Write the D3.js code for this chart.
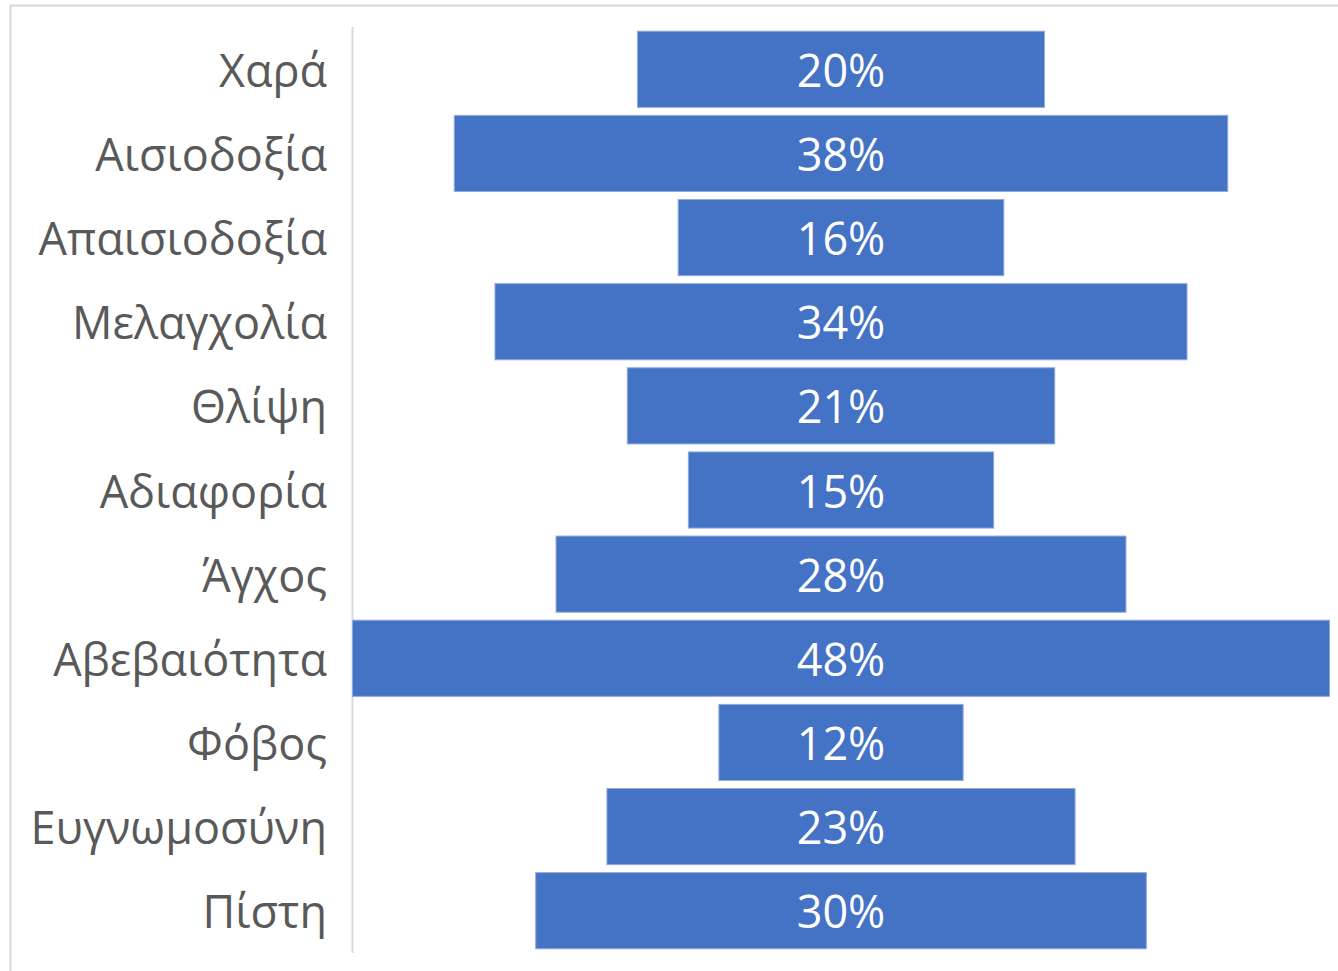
<!DOCTYPE html>
<html><head><meta charset="utf-8">
<script src="https://cdn.jsdelivr.net/npm/d3@7"></script>
<style>html,body{margin:0;padding:0;background:#fff;}svg{display:block;}</style>
</head><body>
<script>
const categories = ["Χαρά","Αισιοδοξία","Απαισιοδοξία","Μελαγχολία","Θλίψη","Αδιαφορία","Άγχος","Αβεβαιότητα","Φόβος","Ευγνωμοσύνη","Πίστη"];
const values = [20,38,16,34,21,15,28,48,12,23,30];
const valueLabels = ["20%","38%","16%","34%","21%","15%","28%","48%","12%","23%","30%"];

const W = 1338, H = 971;
const svg = d3.select("body").append("svg").attr("width", W).attr("height", H);

// chart border (extends beyond right/bottom edges)
svg.append("rect").attr("x", 10.5).attr("y", 5.5).attr("width", W + 20).attr("height", H + 20)
  .attr("fill", "#fff").attr("stroke", "#d9d9d9").attr("stroke-width", 2);

const axisX = 352.5, center = 841;
const y = d3.scaleBand().domain(categories).range([27, 953]).paddingInner(0.095).paddingOuter(0.05);
const w = d3.scaleLinear().domain([0, 48]).range([0, 977]);

svg.append("line").attr("x1", axisX).attr("x2", axisX).attr("y1", 27).attr("y2", 953)
  .attr("stroke", "#d9d9d9").attr("stroke-width", 2);

const g = svg.append("g");
g.selectAll("rect.bar").data(categories).join("rect").attr("class","bar")
  .attr("x", (d,i) => center - w(values[i]) / 2)
  .attr("y", d => y(d))
  .attr("width", (d,i) => w(values[i]))
  .attr("height", y.bandwidth())
  .attr("fill", "#4472C4")
  .attr("stroke", "#8faadc").attr("stroke-width", 1);

g.selectAll("text.val").data(categories).join("text").attr("class","val")
  .attr("x", center).attr("y", d => y(d) + y.bandwidth()/2)
  .attr("text-anchor","middle").attr("dominant-baseline","central")
  .attr("font-family","'Open Sans', sans-serif").attr("font-size", 45)
  .attr("fill","#fff").text((d,i) => valueLabels[i]);

g.selectAll("text.cat").data(categories).join("text").attr("class","cat")
  .attr("x", 327).attr("y", d => y(d) + y.bandwidth()/2)
  .attr("text-anchor","end").attr("dominant-baseline","central")
  .attr("font-family","'Open Sans', sans-serif").attr("font-size", 45)
  .attr("fill","#595959").text(d => d);
</script>
</body></html>
